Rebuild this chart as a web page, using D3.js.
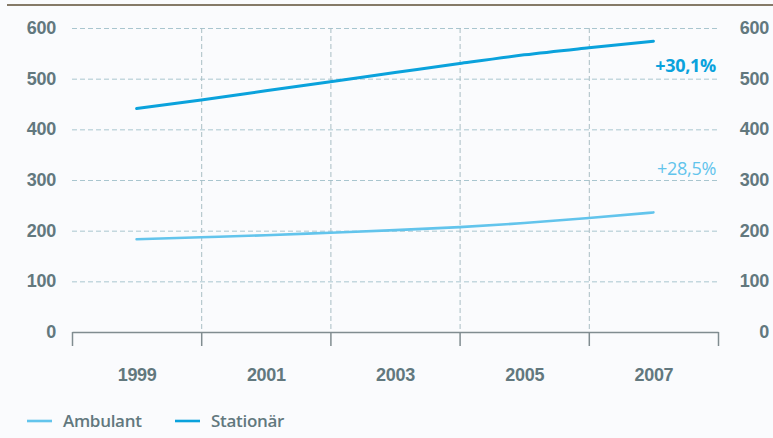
<!DOCTYPE html>
<html>
<head>
<meta charset="utf-8">
<script src="https://cdn.jsdelivr.net/npm/d3@7"></script>
<style>
  body { margin: 0; background: #fafbfd; }
  svg { display: block; font-family: "Open Sans", "DejaVu Sans", sans-serif; }
  .lbl text { fill: #62787e; font-size: 18px; font-weight: 600; letter-spacing: -0.3px; }
</style>
</head>
<body>
<div id="chart"></div>
<script>
const years = [1999, 2000, 2001, 2002, 2003, 2004, 2005, 2006, 2007];
const ambulant = [183, 187, 191, 196, 201, 207, 215, 225, 236];
const stationaer = [441, 458, 476, 494, 512, 530, 547, 561, 574];
const yTicks = [0, 100, 200, 300, 400, 500, 600];
const xLabels = [1999, 2001, 2003, 2005, 2007];
const gridYears = [1998, 2000, 2002, 2004, 2006, 2008];
const seriesNames = ["Ambulant", "Stationär"];
const changes = ["+28,5%", "+30,1%"];

const W = 773, H = 438;
const margin = { top: 28, right: 55, bottom: 106, left: 72 };
const width = W - margin.left - margin.right;
const height = H - margin.top - margin.bottom;
const colors = ["#62c4ec", "#0aa2dc"];

const root = d3.select("#chart").append("svg").attr("width", W).attr("height", H);
root.append("rect").attr("width", W).attr("height", H).attr("fill", "#fafbfd");
root.append("line").attr("x1", 7).attr("x2", W).attr("y1", 5).attr("y2", 5)
  .attr("stroke", "#857a68").attr("stroke-width", 2);

const svg = root.append("g").attr("transform", `translate(${margin.left},${margin.top})`);

const x = d3.scaleLinear().domain([1998, 2008]).range([0, width]);
const y = d3.scaleLinear().domain([0, 600]).range([height, 0]);

// horizontal grid
svg.append("g")
  .call(d3.axisLeft(y).tickValues(yTicks.slice(1)).tickSize(-width).tickFormat(""))
  .call(g => g.select(".domain").remove())
  .call(g => g.selectAll("line").attr("stroke", "#a9c6cf").attr("stroke-dasharray", "5,3"));

// vertical grid
svg.append("g")
  .call(d3.axisBottom(x).tickValues(gridYears.slice(1, -1)).tickSize(height).tickFormat(""))
  .call(g => g.select(".domain").remove())
  .call(g => g.selectAll("line").attr("stroke", "#a9bec4").attr("stroke-dasharray", "5,3"));

// x axis with ticks at even years
svg.append("g")
  .attr("transform", `translate(0,${height})`)
  .call(d3.axisBottom(x).tickValues(gridYears).tickSize(14).tickSizeOuter(0).tickFormat(""))
  .call(g => g.select(".domain").attr("stroke", "#808c90").attr("stroke-width", 1.5))
  .call(g => g.selectAll("line").attr("stroke", "#808c90").attr("stroke-width", 1.5));

// x labels
svg.append("g").attr("class", "lbl")
  .attr("transform", `translate(0,${height + 33})`)
  .call(d3.axisBottom(x).tickValues(xLabels).tickSize(0).tickFormat(d3.format("d")))
  .call(g => g.select(".domain").remove())
  .call(g => g.selectAll("text").attr("font-size", null).attr("font-family", null));

// y labels left and right
svg.append("g").attr("class", "lbl")
  .attr("transform", "translate(-13,0)")
  .call(d3.axisLeft(y).tickValues(yTicks).tickSize(0))
  .call(g => g.select(".domain").remove())
  .call(g => g.selectAll("text").attr("font-size", null).attr("font-family", null).attr("dy", "0.3em"));

svg.append("g").attr("class", "lbl")
  .attr("transform", `translate(${width + 54},0)`)
  .call(d3.axisLeft(y).tickValues(yTicks).tickSize(0))
  .call(g => g.select(".domain").remove())
  .call(g => g.selectAll("text").attr("font-size", null).attr("font-family", null).attr("dy", "0.3em"));

const line = d3.line().x((d, i) => x(years[i])).y(d => y(d)).curve(d3.curveMonotoneX);
[ambulant, stationaer].forEach((vals, k) => {
  svg.append("path").datum(vals)
    .attr("fill", "none")
    .attr("stroke", colors[k])
    .attr("stroke-width", k === 1 ? 3 : 2.6)
    .attr("stroke-linecap", "round")
    .attr("d", line);
  svg.append("text")
    .attr("x", width - 2)
    .attr("y", y(vals[vals.length - 1]) + (k === 1 ? 31 : -37))
    .attr("text-anchor", "end")
    .attr("fill", colors[k])
    .attr("font-size", 18)
    .attr("letter-spacing", "-0.3px")
    .attr("font-weight", k === 1 ? 700 : 500)
    .text(changes[k]);
});

// legend
const leg = root.append("g").attr("transform", "translate(27,421)");
seriesNames.forEach((name, k) => {
  const g = leg.append("g").attr("transform", `translate(${k * 148},0)`);
  g.append("line").attr("x1", 0).attr("x2", 25).attr("y1", 0).attr("y2", 0)
    .attr("stroke", colors[k]).attr("stroke-width", 2.6);
  g.append("text").attr("x", 36).attr("y", 6)
    .attr("fill", "#62787e").attr("font-size", 17).attr("font-weight", 600)
    .attr("letter-spacing", "-0.3px").text(name);
});
</script>
</body>
</html>
